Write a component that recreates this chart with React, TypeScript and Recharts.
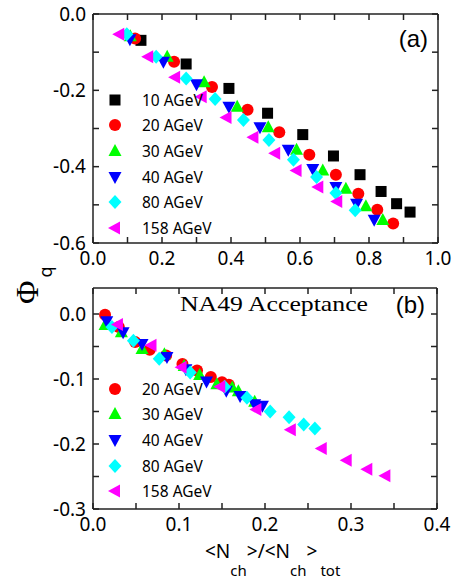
import { ScatterChart, Scatter, XAxis, YAxis, Legend } from "recharts";

// ---- panel (a): full acceptance ----
const aX10 = [0.139, 0.27, 0.394, 0.506, 0.608, 0.697, 0.774, 0.835, 0.88, 0.919];
const aY10 = [-0.069, -0.131, -0.195, -0.26, -0.316, -0.372, -0.421, -0.465, -0.497, -0.519];
const aX20 = [0.122, 0.235, 0.345, 0.448, 0.54, 0.627, 0.704, 0.769, 0.824, 0.87];
const aY20 = [-0.064, -0.125, -0.191, -0.251, -0.31, -0.369, -0.421, -0.471, -0.513, -0.549];
const aX30 = [0.108, 0.215, 0.322, 0.418, 0.508, 0.59, 0.666, 0.733, 0.791, 0.84];
const aY30 = [-0.058, -0.112, -0.179, -0.243, -0.297, -0.356, -0.41, -0.458, -0.504, -0.54];
const aX40 = [0.107, 0.204, 0.3, 0.394, 0.484, 0.566, 0.637, 0.704, 0.764, 0.815];
const aY40 = [-0.066, -0.125, -0.184, -0.243, -0.297, -0.356, -0.406, -0.453, -0.497, -0.539];
const aX80 = [0.098, 0.183, 0.27, 0.354, 0.436, 0.51, 0.581, 0.648, 0.704, 0.76];
const aY80 = [-0.053, -0.112, -0.169, -0.223, -0.278, -0.33, -0.382, -0.427, -0.469, -0.514];
const aX158 = [0.076, 0.16, 0.238, 0.315, 0.387, 0.465, 0.528, 0.59, 0.653, 0.708];
const aY158 = [-0.053, -0.112, -0.166, -0.217, -0.271, -0.323, -0.365, -0.41, -0.453, -0.491];

// ---- panel (b): NA49 acceptance ----
const bX20 = [0.014, 0.03, 0.049, 0.066, 0.085, 0.104, 0.121, 0.137, 0.15, 0.158];
const bY20 = [-0.001, -0.02, -0.043, -0.055, -0.064, -0.077, -0.087, -0.097, -0.105, -0.109];
const bX30 = [0.014, 0.033, 0.057, 0.083, 0.106, 0.124, 0.144, 0.162, 0.169, 0.188];
const bY30 = [-0.017, -0.028, -0.054, -0.062, -0.08, -0.094, -0.108, -0.113, -0.119, -0.135];
const bX40 = [0.016, 0.035, 0.057, 0.086, 0.108, 0.132, 0.155, 0.171, 0.188, 0.197];
const bY40 = [-0.011, -0.028, -0.046, -0.066, -0.085, -0.104, -0.118, -0.126, -0.139, -0.141];
const bX80 = [0.022, 0.047, 0.077, 0.113, 0.153, 0.179, 0.206, 0.228, 0.245, 0.258];
const bY80 = [-0.02, -0.041, -0.069, -0.09, -0.112, -0.129, -0.15, -0.159, -0.17, -0.176];
const bX158 = [0.029, 0.068, 0.103, 0.148, 0.19, 0.23, 0.266, 0.295, 0.319, 0.34];
const bY158 = [-0.016, -0.048, -0.082, -0.112, -0.147, -0.178, -0.207, -0.225, -0.239, -0.249];

const xTicksA = [0, 0.1, 0.2, 0.3, 0.4, 0.5, 0.6, 0.7, 0.8, 0.9, 1.0];
const xLabelsA = ["0.0", "", "0.2", "", "0.4", "", "0.6", "", "0.8", "", "1.0"];
const yTicksA = [-0.6, -0.5, -0.4, -0.3, -0.2, -0.1, 0];
const yLabelsA = ["-0.6", "", "-0.4", "", "-0.2", "", "0.0"];
const xTicksB = [0, 0.05, 0.1, 0.15, 0.2, 0.25, 0.3, 0.35, 0.4];
const xLabelsB = ["0.0", "", "0.1", "", "0.2", "", "0.3", "", "0.4"];
const yTicksB = [-0.3, -0.25, -0.2, -0.15, -0.1, -0.05, 0];
const yLabelsB = ["-0.3", "", "-0.2", "", "-0.1", "", "0.0"];

const STYLE: any = {
  "10 AGeV": { color: "#000000", kind: "square" },
  "20 AGeV": { color: "#ff0000", kind: "circle" },
  "30 AGeV": { color: "#00ff00", kind: "up" },
  "40 AGeV": { color: "#0000ff", kind: "down" },
  "80 AGeV": { color: "#00ffff", kind: "diamond" },
  "158 AGeV": { color: "#ff00ff", kind: "left" },
};

const zip = (xs: number[], ys: number[]) => xs.map((x, i) => ({ x, y: ys[i] }));

const seriesA = [
  { name: "10 AGeV", data: zip(aX10, aY10) },
  { name: "20 AGeV", data: zip(aX20, aY20) },
  { name: "30 AGeV", data: zip(aX30, aY30) },
  { name: "40 AGeV", data: zip(aX40, aY40) },
  { name: "80 AGeV", data: zip(aX80, aY80) },
  { name: "158 AGeV", data: zip(aX158, aY158) },
];
const seriesB = [
  { name: "20 AGeV", data: zip(bX20, bY20) },
  { name: "30 AGeV", data: zip(bX30, bY30) },
  { name: "40 AGeV", data: zip(bX40, bY40) },
  { name: "80 AGeV", data: zip(bX80, bY80) },
  { name: "158 AGeV", data: zip(bX158, bY158) },
];

function Marker({ kind, cx, cy, color }: any) {
  if (cx == null || cy == null) return null;
  switch (kind) {
    case "square":
      return <rect x={cx - 5.5} y={cy - 5.5} width={11} height={11} fill={color} />;
    case "circle":
      return <circle cx={cx} cy={cy} r={6} fill={color} />;
    case "up":
      return <polygon points={`${cx},${cy - 7} ${cx + 6.5},${cy + 5} ${cx - 6.5},${cy + 5}`} fill={color} />;
    case "down":
      return <polygon points={`${cx - 6.5},${cy - 5} ${cx + 6.5},${cy - 5} ${cx},${cy + 7}`} fill={color} />;
    case "diamond":
      return <polygon points={`${cx},${cy - 7} ${cx + 6.5},${cy} ${cx},${cy + 7} ${cx - 6.5},${cy}`} fill={color} />;
    default:
      return <polygon points={`${cx - 7},${cy} ${cx + 5},${cy - 6.5} ${cx + 5},${cy + 6.5}`} fill={color} />;
  }
}

const legendBox = (names: string[]) => () => (
  <div style={{ fontFamily: "'Noto Sans'", fontSize: 15.5, color: "#000" }}>
    {names.map((n) => (
      <div key={n} style={{ display: "flex", alignItems: "center", height: 25.6 }}>
        <svg width={16} height={16}>
          <Marker kind={STYLE[n].kind} cx={8} cy={8} color={STYLE[n].color} />
        </svg>
        <span style={{ marginLeft: 19 }}>{n}</span>
      </div>
    ))}
  </div>
);

const tickFont = { fontFamily: "'Noto Sans'", fontSize: 19, fill: "#000" };

function Panel({ series, xTicks, xLabels, yTicks, yLabels, xDomain, yDomain, height, xHeight, right, legendTop }: any) {
  const fx = (v: number) => xLabels[xTicks.indexOf(v)] ?? "";
  const fy = (v: number) => yLabels[yTicks.indexOf(v)] ?? "";
  return (
    <ScatterChart width={454} height={height} margin={{ top: 13, right, left: 0, bottom: 0 }}>
      <XAxis type="number" dataKey="x" domain={xDomain} ticks={xTicks} interval={0} allowDataOverflow
        tickFormatter={fx} tick={tickFont} tickSize={-6} tickMargin={15} height={xHeight}
        stroke="#222" strokeWidth={1.5} />
      <XAxis xAxisId="top" orientation="top" type="number" dataKey="x" domain={xDomain} ticks={xTicks}
        interval={0} allowDataOverflow tickFormatter={() => ""} tickSize={-6} height={1}
        stroke="#222" strokeWidth={1.5} />
      <YAxis type="number" dataKey="y" domain={yDomain} ticks={yTicks} interval={0} allowDataOverflow
        tickFormatter={fy} tick={tickFont} tickSize={-6} tickMargin={13} width={93}
        stroke="#222" strokeWidth={1.5} />
      <YAxis yAxisId="right" orientation="right" type="number" dataKey="y" domain={yDomain} ticks={yTicks}
        interval={0} allowDataOverflow tickFormatter={() => ""} tickSize={-6} width={1}
        stroke="#222" strokeWidth={1.5} />
      <Legend layout="vertical" align="center" verticalAlign="middle"
        wrapperStyle={{ left: 107, top: legendTop, width: "auto" }}
        content={legendBox(series.map((s: any) => s.name))} />
      {series.map((s: any) => (
        <Scatter key={s.name} name={s.name} data={s.data} fill={STYLE[s.name].color} isAnimationActive={false}
          shape={(p: any) => <Marker kind={STYLE[s.name].kind} cx={p.cx} cy={p.cy} color={STYLE[s.name].color} />} />
      ))}
    </ScatterChart>
  );
}

export default function App() {
  return (
    <div style={{ position: "absolute", left: 0, top: 0, width: 454, height: 581, background: "#fff" }}>
      <div style={{ position: "absolute", left: 0, top: 0 }}>
        <Panel series={seriesA} xTicks={xTicksA} xLabels={xLabelsA} yTicks={yTicksA} yLabels={yLabelsA}
          xDomain={[0, 1]} yDomain={[-0.6, 0]} height={270} xHeight={27} right={15} legendTop={87} />
      </div>
      <div style={{ position: "absolute", left: 0, top: 274 }}>
        <Panel series={seriesB} xTicks={xTicksB} xLabels={xLabelsB} yTicks={yTicksB} yLabels={yLabelsB}
          xDomain={[0, 0.4]} yDomain={[-0.3, 0.04]} height={307} xHeight={72} right={16} legendTop={102} />
      </div>
      <svg width={454} height={581} style={{ position: "absolute", left: 0, top: 0, pointerEvents: "none" }}>
        <text x={428} y={47} textAnchor="end" fontFamily="'Liberation Sans', Arial" fontSize={24}>(a)</text>
        <text x={425} y={313} textAnchor="end" fontFamily="'Liberation Sans', Arial" fontSize={24}>(b)</text>
        <text x={180} y={311} fontFamily="'Liberation Serif', 'Times New Roman'" fontSize={21}
          textLength={188} lengthAdjust="spacingAndGlyphs">NA49 Acceptance</text>
        <text transform="translate(38,304) rotate(-90)">
          <tspan fontFamily="'Liberation Serif'" fontSize={32}>Φ</tspan>
          <tspan fontFamily="'Noto Sans'" fontSize={18} dx={3} dy={14}>q</tspan>
        </text>
        <text x={205} y={558} fontFamily="'Noto Sans'" fontSize={19}>
          <tspan>&lt;N</tspan>
          <tspan fontSize={15} dy={18}>ch</tspan>
          <tspan dy={-18}>&gt;/&lt;N</tspan>
          <tspan fontSize={15} dy={18}>ch</tspan>
          <tspan dy={-18}>&gt;</tspan>
          <tspan fontSize={15} dx={3} dy={18}>tot</tspan>
        </text>
      </svg>
    </div>
  );
}
